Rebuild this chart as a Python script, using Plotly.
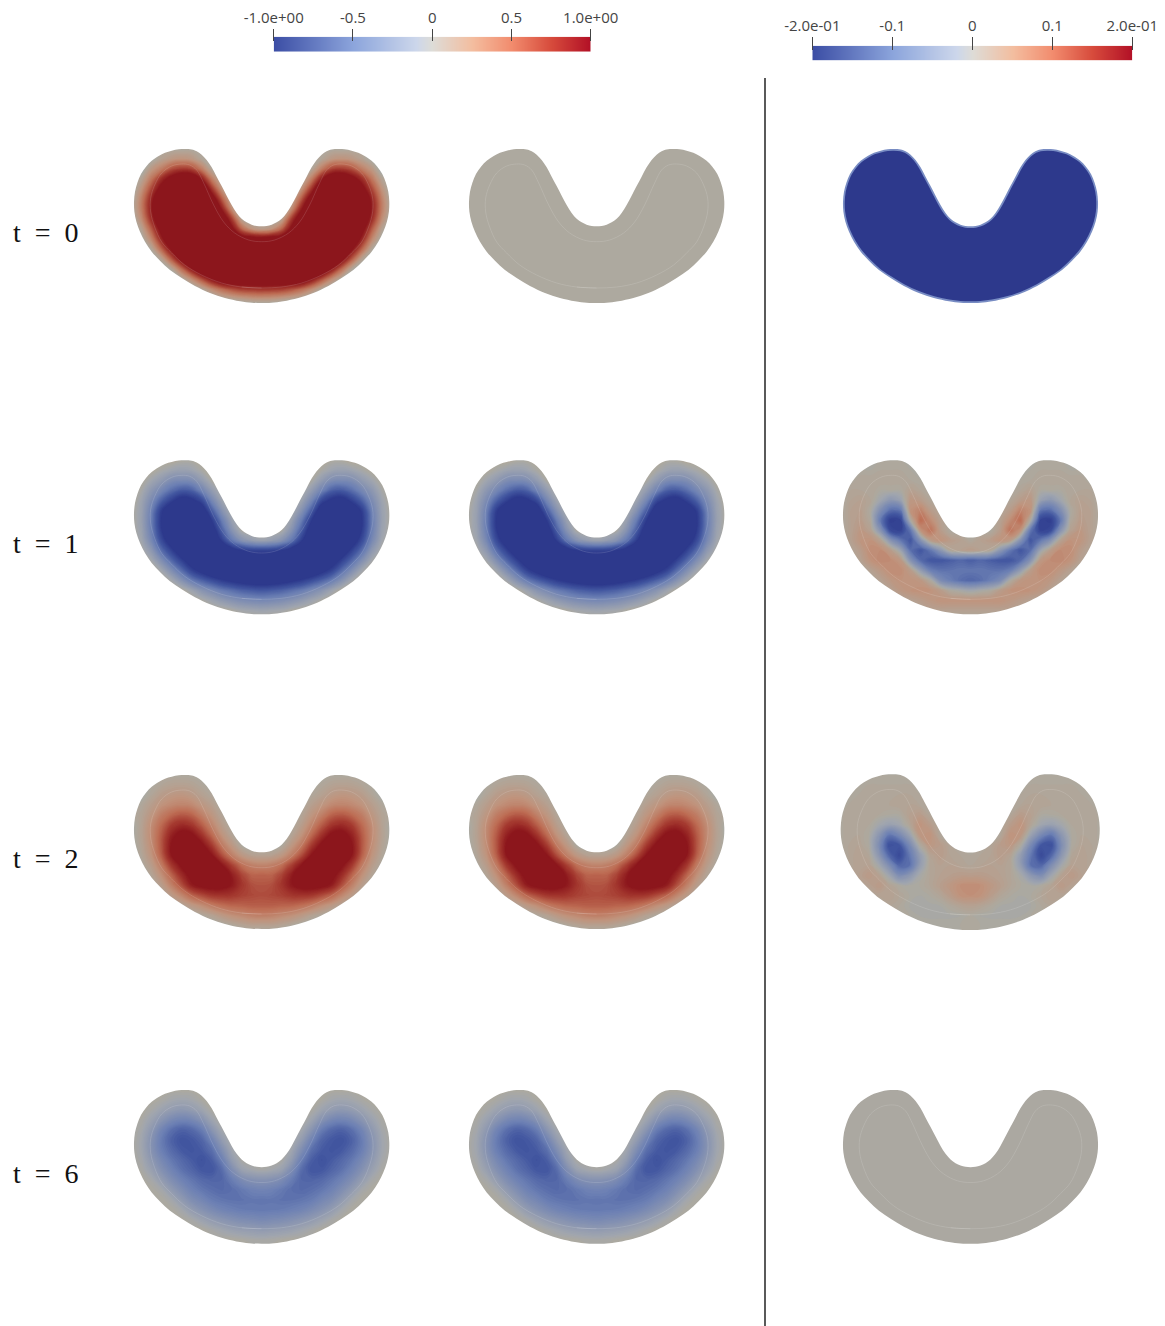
import plotly.graph_objects as go

WIDTH, HEIGHT = 1165, 1326

# half outline of the domain, (offset from the symmetry axis, depth below the top)
outline_dx = [0, 5, 10, 15, 20, 25, 30, 35, 40, 45, 50, 55, 60, 65, 70, 76.7, 83, 90, 96.7, 103, 110, 115.7,
              120.7, 124.3, 126.7, 127.7, 127.3, 125.3, 121.7, 116.7, 110, 101.7, 91.7, 80, 66.7, 51.7, 36.7,
              21.7, 10, 0]
outline_v = [77.3, 77, 75.7, 73.3, 69.7, 64, 56, 46.7, 37, 27.7, 18.3, 11, 5.7, 2.3, 0.5, 0, 0.3, 1.7, 3.7, 7,
             11.7, 17.7, 25, 33.7, 42.7, 52.7, 62.7, 72.7, 82.7, 92.7, 102.7, 111.7, 121, 129, 137, 144,
             149, 152.3, 153.7, 154]

# pale inner curve
inner_dx = [0, 13, 27, 38, 48, 58, 65, 72, 80, 90, 100, 107, 111, 111, 107, 100, 90, 77, 60, 40, 20, 0]
inner_v = [92.7, 91, 84, 73, 56, 34, 21, 16, 15, 17, 24, 36, 49, 63, 78, 93, 104, 116, 126, 134, 138, 139]

# field samples: rows are depth, columns are offset from the axis (one half, the shape is symmetric)
grid_dx = [0, 10, 20, 30, 40, 50, 60, 70, 80, 90, 100, 110, 120, 130]
grid_v = [0, 10, 20, 30, 40, 50, 60, 70, 80, 90, 100, 110, 120, 130, 140, 150, 160]

t0_left = [
    [0, 0, 0, 0, 0, 0, 0, 0, 0, 0, 0, 0, 0, 0],
    [0, 0, 0, 0, 0, 0, .05, .2, .25, .2, .1, -.05, 0, 0],
    [0, 0, 0, 0, 0, .05, .4, .7, .75, .65, .4, .2, -.1, 0],
    [0, 0, 0, 0, 0, .4, .95, 1.3, 1.35, 1.15, .85, .45, .08, 0],
    [0, 0, 0, -.1, .25, .8, 1.5, 1.7, 1.7, 1.6, 1.15, .7, .25, -.1],
    [0, 0, 0, .05, .6, 1.25, 1.7, 1.7, 1.7, 1.7, 1.4, .9, .38, -.05],
    [0, 0, -.05, .3, .95, 1.6, 1.7, 1.7, 1.7, 1.7, 1.5, .95, .4, -.03],
    [0, -.1, .1, .75, 1.35, 1.7, 1.7, 1.7, 1.7, 1.7, 1.35, .85, .3, -.1],
    [.15, .25, .55, 1.1, 1.6, 1.7, 1.7, 1.7, 1.7, 1.6, 1.15, .6, .1, -.1],
    [1.15, 1.2, 1.25, 1.6, 1.7, 1.7, 1.7, 1.7, 1.7, 1.4, .9, .35, -.05, -.1],
    [1.7, 1.7, 1.7, 1.7, 1.7, 1.7, 1.7, 1.7, 1.5, 1.05, .55, .05, -.1, -.1],
    [1.7, 1.7, 1.7, 1.7, 1.7, 1.7, 1.7, 1.6, 1.1, .6, .1, -.1, -.1, -.1],
    [1.7, 1.7, 1.7, 1.7, 1.7, 1.7, 1.4, .95, .5, .05, -.15, -.15, -.15, -.15],
    [1.35, 1.35, 1.35, 1.35, 1.3, 1.0, .65, .3, 0, -.2, -.2, -.2, -.2, -.2],
    [.8, .78, .75, .65, .5, .3, .05, -.15, -.2, -.2, -.2, -.2, -.2, -.2],
    [.22, .2, .15, .08, 0, -.15, -.2, -.2, -.2, -.2, -.2, -.2, -.2, -.2],
    [-.3, -.3, -.3, -.3, -.3, -.3, -.3, -.3, -.3, -.3, -.3, -.3, -.3, -.3],
]
t0_mid = [[0] * 14 for _ in grid_v]
t0_right = [[-.2] * 14 for _ in grid_v]

t1_left = [
    [.05, .05, .05, .05, .05, .05, .05, 0, 0, .05, .05, .05, .05, .05],
    [.05, .05, .05, .05, .05, .05, -.03, -.12, -.15, -.12, -.05, .03, .05, .05],
    [.05, .05, .05, .05, .05, -.02, -.2, -.35, -.38, -.35, -.22, -.1, .02, .05],
    [.05, .05, .05, .05, 0, -.2, -.45, -.68, -.72, -.6, -.42, -.25, -.05, .05],
    [.05, .05, .05, .03, -.12, -.42, -.85, -1.05, -1.12, -.92, -.68, -.38, -.12, .05],
    [.05, .05, .05, -.02, -.3, -.7, -1.2, -1.4, -1.45, -1.25, -.95, -.48, -.15, .02],
    [.05, .05, .03, -.15, -.52, -.98, -1.4, -1.6, -1.6, -1.4, -1.02, -.52, -.16, .02],
    [.05, .03, -.02, -.3, -.7, -1.2, -1.55, -1.6, -1.6, -1.4, -.98, -.5, -.14, .02],
    [-.12, -.18, -.3, -.55, -.95, -1.4, -1.6, -1.6, -1.5, -1.2, -.85, -.42, -.1, .03],
    [-.9, -.9, -.98, -1.15, -1.4, -1.6, -1.6, -1.5, -1.25, -.92, -.62, -.25, -.02, .05],
    [-1.3, -1.3, -1.35, -1.5, -1.6, -1.5, -1.35, -1.2, -.92, -.65, -.35, -.08, .05, .05],
    [-1.5, -1.5, -1.5, -1.5, -1.4, -1.3, -1.1, -.9, -.62, -.35, -.1, .05, .05, .05],
    [-1.2, -1.18, -1.12, -1.05, -.95, -.82, -.68, -.52, -.3, -.08, .05, .05, .05, .05],
    [-.75, -.72, -.68, -.6, -.52, -.4, -.28, -.12, .02, .05, .05, .05, .05, .05],
    [-.42, -.4, -.36, -.3, -.22, -.12, -.02, .05, .05, .05, .05, .05, .05, .05],
    [-.12, -.1, -.08, -.02, .03, .05, .05, .05, .05, .05, .05, .05, .05, .05],
    [.05, .05, .05, .05, .05, .05, .05, .05, .05, .05, .05, .05, .05, .05],
]
t1_right = [
    [0, 0, 0, 0, 0, 0, 0, 0, 0, 0, 0, 0, 0, 0],
    [0, 0, 0, 0, 0, 0, 0, .005, .005, .005, 0, 0, 0, 0],
    [0, 0, 0, 0, 0, 0, .005, .01, .01, .01, .01, .01, 0, 0],
    [0, 0, 0, 0, 0, .01, .02, 0, 0, 0, .01, .01, .01, 0],
    [0, 0, 0, 0, .01, .03, .04, -.03, -.05, -.02, .01, .02, .015, 0],
    [0, 0, 0, .01, .03, .07, .05, -.11, -.12, -.07, 0, .025, .02, 0],
    [0, 0, 0, .02, .06, .10, 0, -.18, -.19, -.11, .005, .03, .02, 0],
    [0, 0, 0, .03, .09, .05, -.11, -.18, -.17, -.06, .02, .04, .02, 0],
    [.005, .02, .03, .05, .03, -.06, -.15, -.11, -.06, .02, .05, .045, .02, 0],
    [.03, .02, .01, -.05, -.11, -.15, -.12, -.025, .03, .06, .06, .03, .01, 0],
    [-.14, -.13, -.14, -.15, -.15, -.125, -.06, .04, .06, .065, .05, .02, 0, 0],
    [-.11, -.11, -.115, -.115, -.10, -.04, .03, .06, .06, .04, .02, 0, 0, 0],
    [-.13, -.12, -.10, -.075, 0, .04, .05, .05, .04, .02, 0, 0, 0, 0],
    [-.02, -.01, 0, .03, .05, .055, .05, .04, .02, 0, 0, 0, 0, 0],
    [.05, .05, .05, .05, .04, .03, .02, .01, 0, 0, 0, 0, 0, 0],
    [.02, .02, .02, .02, .02, .01, 0, 0, 0, 0, 0, 0, 0, 0],
    [0, 0, 0, 0, 0, 0, 0, 0, 0, 0, 0, 0, 0, 0],
]

t2_left = [
    [0, 0, 0, 0, 0, 0, 0, 0, 0, 0, 0, 0, 0, 0],
    [0, 0, 0, 0, 0, 0, .03, .08, .1, .09, .05, 0, 0, 0],
    [0, 0, 0, 0, 0, .03, .1, .18, .22, .2, .15, .05, -.05, 0],
    [0, 0, 0, 0, 0, .12, .22, .32, .35, .32, .25, .14, .03, 0],
    [0, 0, 0, -.05, .06, .22, .38, .55, .6, .52, .4, .22, .07, 0],
    [0, 0, 0, 0, .14, .35, .58, .78, .85, .75, .52, .3, .09, -.05],
    [0, 0, -.05, .07, .25, .52, .8, 1.05, 1.1, .92, .6, .32, .1, -.05],
    [0, -.05, 0, .2, .42, .75, 1.05, 1.25, 1.25, 1.02, .62, .3, .08, -.05],
    [.08, .1, .2, .38, .65, 1.0, 1.25, 1.3, 1.2, 1.0, .58, .25, .05, -.05],
    [.35, .38, .48, .72, 1.0, 1.2, 1.3, 1.25, 1.05, .78, .42, .16, 0, -.1],
    [.55, .55, .7, .95, 1.2, 1.3, 1.25, 1.1, .85, .55, .28, .07, -.05, -.1],
    [.62, .65, .78, .98, 1.1, 1.12, 1.08, .95, .65, .38, .15, 0, -.1, -.1],
    [.66, .68, .72, .78, .8, .78, .68, .55, .35, .18, .02, -.1, -.1, -.1],
    [.58, .58, .56, .55, .5, .42, .3, .2, .08, -.02, -.1, -.1, -.1, -.1],
    [.4, .38, .33, .28, .2, .1, .03, -.05, -.1, -.1, -.1, -.1, -.1, -.1],
    [.12, .12, .08, .03, -.03, -.08, -.1, -.1, -.1, -.1, -.1, -.1, -.1, -.1],
    [-.1, -.1, -.1, -.1, -.1, -.1, -.1, -.1, -.1, -.1, -.1, -.1, -.1, -.1],
]
t2_right = [
    [0, 0, 0, 0, 0, 0, 0, 0, 0, 0, 0, 0, 0, 0],
    [0, 0, 0, 0, 0, 0, .005, .005, .005, .005, .005, .005, 0, 0],
    [0, 0, 0, 0, 0, .005, .01, .01, .01, .01, .01, .005, 0, 0],
    [0, 0, 0, 0, .005, .01, .015, .015, .01, .01, .01, .01, .005, 0],
    [0, 0, 0, 0, .01, .03, .02, 0, 0, .005, .01, .01, .01, 0],
    [0, 0, 0, .005, .03, .05, .01, -.02, -.03, -.015, .005, .01, .01, 0],
    [0, 0, 0, .01, .05, .04, -.03, -.08, -.11, -.05, 0, .01, .01, 0],
    [0, .005, .01, .03, .04, 0, -.08, -.15, -.16, -.07, 0, .015, .01, 0],
    [.005, .01, .015, .03, .015, -.04, -.11, -.17, -.13, -.05, .01, .02, .01, 0],
    [.01, .015, .02, .02, .01, -.04, -.12, -.13, -.07, -.015, .02, .02, .01, 0],
    [.03, .03, .025, .02, .01, -.01, -.05, -.07, -.02, .02, .035, .02, .01, 0],
    [.06, .055, .04, .025, .01, 0, -.005, 0, .015, .035, .02, .005, 0, 0],
    [.055, .05, .03, .01, 0, -.005, 0, .01, .02, .015, .005, 0, 0, 0],
    [.02, .015, .005, -.005, -.007, -.007, -.005, .005, .01, .005, 0, 0, 0, 0],
    [0, -.005, -.007, -.007, -.007, -.005, 0, .005, .005, 0, 0, 0, 0, 0],
    [.005, 0, 0, 0, 0, 0, 0, 0, 0, 0, 0, 0, 0, 0],
    [0, 0, 0, 0, 0, 0, 0, 0, 0, 0, 0, 0, 0, 0],
]

t6_left = [
    [0, 0, 0, 0, 0, 0, 0, 0, 0, 0, 0, 0, 0, 0],
    [0, 0, 0, 0, 0, 0, -.02, -.08, -.1, -.08, -.03, 0, 0, 0],
    [0, 0, 0, 0, 0, -.02, -.12, -.2, -.24, -.2, -.13, -.05, 0, 0],
    [0, 0, 0, 0, 0, -.12, -.3, -.42, -.45, -.4, -.28, -.14, -.03, 0],
    [0, 0, 0, 0, -.08, -.28, -.52, -.64, -.68, -.6, -.45, -.24, -.07, 0],
    [0, 0, 0, -.02, -.2, -.46, -.66, -.74, -.77, -.68, -.52, -.3, -.1, 0],
    [0, 0, 0, -.1, -.35, -.6, -.72, -.76, -.73, -.63, -.5, -.3, -.1, 0],
    [0, 0, -.03, -.2, -.5, -.7, -.78, -.72, -.64, -.55, -.41, -.24, -.07, 0],
    [-.05, -.08, -.15, -.36, -.62, -.75, -.74, -.66, -.58, -.46, -.32, -.16, -.03, 0],
    [-.3, -.32, -.38, -.52, -.65, -.66, -.63, -.56, -.47, -.35, -.2, -.06, 0, 0],
    [-.46, -.48, -.54, -.6, -.63, -.6, -.55, -.47, -.35, -.22, -.07, 0, 0, 0],
    [-.56, -.56, -.58, -.58, -.56, -.52, -.43, -.35, -.22, -.08, 0, 0, 0, 0],
    [-.54, -.53, -.52, -.49, -.45, -.38, -.3, -.2, -.08, 0, 0, 0, 0, 0],
    [-.4, -.38, -.36, -.32, -.27, -.21, -.13, -.05, 0, 0, 0, 0, 0, 0],
    [-.22, -.2, -.18, -.15, -.1, -.05, 0, 0, 0, 0, 0, 0, 0, 0],
    [-.05, -.04, -.02, 0, 0, 0, 0, 0, 0, 0, 0, 0, 0, 0],
    [0, 0, 0, 0, 0, 0, 0, 0, 0, 0, 0, 0, 0, 0],
]
t6_right = [[-.003] * 14 for _ in grid_v]

row_labels = ['t\u2002=\u20020', 't\u2002=\u20021', 't\u2002=\u20022', 't\u2002=\u20026']
row_label_y = [232, 543, 858, 1173]

bar_left_vals = [-1, -.5, 0, .5, 1]
bar_left_text = ['-1.0e+00', '-0.5', '0', '0.5', '1.0e+00']
bar_right_vals = [-.2, -.1, 0, .1, .2]
bar_right_text = ['-2.0e-01', '-0.1', '0', '0.1', '2.0e-01']

# colours of the bars, and the same map as it looks on the shaded surfaces
bar_scale = [[0, 'rgb(60,78,165)'], [.25, 'rgb(140,165,220)'], [.45, 'rgb(205,215,235)'], [.5, 'rgb(222,220,215)'],
             [.625, 'rgb(243,190,160)'], [.75, 'rgb(242,140,110)'], [.875, 'rgb(215,75,60)'], [1, 'rgb(178,16,38)']]
field_scale = [[0, 'rgb(45,57,140)'], [.125, 'rgb(66,86,160)'], [.25, 'rgb(108,128,180)'], [.45, 'rgb(160,165,175)'],
               [.5, 'rgb(173,169,159)'], [.625, 'rgb(192,148,125)'], [.75, 'rgb(190,110,85)'],
               [.875, 'rgb(165,58,48)'], [1, 'rgb(140,22,28)']]

# panel boxes in pixels: left, right, top, bottom
cols = [(134, 389.3), (469, 724.3), (843, 1098)]
rows = [(149, 303), (460.3, 614.3), (775, 929), (1090, 1243.7)]
panels = [
    (0, 0, t0_left, 1), (0, 1, t0_mid, 1), (0, 2, t0_right, .2),
    (1, 0, t1_left, 1), (1, 1, t1_left, 1), (1, 2, t1_right, .2),
    (2, 0, t2_left, 1), (2, 1, t2_left, 1), (2, 2, t2_right, .2),
    (3, 0, t6_left, 1), (3, 1, t6_left, 1), (3, 2, t6_right, .2),
]


def px_x(x):
    return x / WIDTH


def px_y(y):
    return 1 - y / HEIGHT


def smooth_closed_path(pts):
    # Catmull-Rom through the outline points, written as svg cubics
    n = len(pts)
    d = f'M{pts[0][0]:.5f},{pts[0][1]:.5f}'
    for k in range(n):
        p0, p1, p2, p3 = pts[k - 1], pts[k], pts[(k + 1) % n], pts[(k + 2) % n]
        c1 = (p1[0] + (p2[0] - p0[0]) / 6, p1[1] + (p2[1] - p0[1]) / 6)
        c2 = (p2[0] - (p3[0] - p1[0]) / 6, p2[1] - (p3[1] - p1[1]) / 6)
        d += f' C{c1[0]:.5f},{c1[1]:.5f} {c2[0]:.5f},{c2[1]:.5f} {p2[0]:.5f},{p2[1]:.5f}'
    return d + ' Z'


fig = go.Figure()
layout = {}
shapes = []
annotations = []

# whole closed outline (left half read back to front, then right half; ends not repeated)
out_x = [-d for d in outline_dx[:0:-1]] + outline_dx[:-1]
out_y = outline_v[:0:-1] + outline_v[:-1]
in_x = [-d for d in inner_dx[:0:-1]] + inner_dx + [-inner_dx[-2]]
in_y = inner_v[:0:-1] + inner_v + [inner_v[-2]]
full_x = [-d for d in grid_dx[:0:-1]] + grid_dx
PAD = 3

for i, (r, c, field, zlim) in enumerate(panels, start=2):
    left, right = cols[c]
    top, bottom = rows[r]
    # the t = 2 error panel is a touch larger in the picture
    if r == 2 and c == 2:
        left, right, top, bottom = 840.7, 1099.7, 774.3, 930
    sx = (right - left) / 255.4
    sy = (bottom - top) / 154
    mid = (left + right) / 2
    layout[f'xaxis{i}'] = dict(domain=[px_x(left - PAD * sx), px_x(right + PAD * sx)], automargin=False,
                               range=[-127.7 - PAD, 127.7 + PAD], visible=False, fixedrange=True)
    layout[f'yaxis{i}'] = dict(domain=[px_y(bottom + PAD * sy), px_y(top - PAD * sy)], automargin=False,
                               range=[154 + PAD, -PAD], visible=False, fixedrange=True)
    z = [row[:0:-1] + row for row in field]
    flat = min(min(row) for row in field) == max(max(row) for row in field)
    if flat:
        fig.add_trace(go.Heatmap(x=full_x, y=grid_v, z=z, zmin=-zlim, zmax=zlim, colorscale=field_scale,
                                 showscale=False, hoverinfo='skip', xaxis=f'x{i}', yaxis=f'y{i}'))
    else:
        fig.add_trace(go.Contour(x=full_x, y=grid_v, z=z, zmin=-zlim, zmax=zlim, colorscale=field_scale,
                                 autocontour=False, showscale=False, hoverinfo='skip',
                                 contours=dict(start=-zlim, end=zlim, size=zlim / 40, coloring='fill',
                                               showlines=False),
                                 line=dict(smoothing=1.3, width=0), xaxis=f'x{i}', yaxis=f'y{i}'))
    # the initial error panel has no pale curve, only a lighter rim
    if r == 0 and c == 2:
        fig.add_trace(go.Scatter(x=out_x + [out_x[0]], y=out_y + [out_y[0]], mode='lines',
                                 line=dict(color='rgb(120,140,195)', width=3.5, shape='spline'), hoverinfo='skip',
                                 showlegend=False, xaxis=f'x{i}', yaxis=f'y{i}'))
    else:
        fig.add_trace(go.Scatter(x=in_x, y=in_y, mode='lines',
                                 line=dict(color='rgba(255,255,255,0.13)', width=1, shape='spline'),
                                 hoverinfo='skip', showlegend=False, xaxis=f'x{i}', yaxis=f'y{i}'))
    # white sheet with a hole in the form of the domain, in paper units so that it is not cut at the axes
    hole = smooth_closed_path([(px_x(mid + a * sx), px_y(top + b * sy)) for a, b in zip(out_x, out_y)])
    x0, x1 = px_x(left - 8), px_x(right + 8)
    y0, y1 = px_y(top - 8), px_y(bottom + 8)
    shapes.append(dict(type='path', xref='paper', yref='paper', fillcolor='white', line_width=0, layer='above',
                       fillrule='evenodd',
                       path=f'M{x0:.5f},{y0:.5f} L{x1:.5f},{y0:.5f} L{x1:.5f},{y1:.5f} L{x0:.5f},{y1:.5f} Z {hole}'))

# colour bars
for i, vals, text, (bl, br, bt, bb, tick_base, tick_len) in [
    (20, bar_left_vals, bar_left_text, (273.7, 590.7, 36.7, 51.7, 40.7, 11.4)),
    (21, bar_right_vals, bar_right_text, (812.3, 1132.3, 45.7, 60.3, 49.7, 12.5)),
]:
    fig.add_trace(go.Heatmap(x=[vals[0], vals[-1]], y=[0, 1], z=[[vals[0], vals[-1]], [vals[0], vals[-1]]],
                             zsmooth='best', colorscale=bar_scale, showscale=False, hoverinfo='skip',
                             xaxis=f'x{i}', yaxis=f'y{i}'))
    layout[f'xaxis{i}'] = dict(domain=[px_x(bl), px_x(br)], range=[vals[0], vals[-1]], anchor='free',
                               position=px_y(tick_base), side='top', tickmode='array', tickvals=vals,
                               ticktext=text, ticks='outside', ticklen=tick_len, tickwidth=1.2,
                               tickcolor='#444', showgrid=False, zeroline=False, showline=False, automargin=False,
                               tickfont=dict(family='Open Sans', size=15, color='#444'), fixedrange=True)
    layout[f'yaxis{i}'] = dict(domain=[px_y(bb), px_y(bt)], range=[0, 1], visible=False, fixedrange=True,
                               automargin=False)

# row labels
for text, y in zip(row_labels, row_label_y):
    annotations.append(dict(text=text, x=px_x(11), y=px_y(y), xref='paper', yref='paper', xanchor='left',
                            yanchor='middle', showarrow=False, font=dict(family='Liberation Serif', size=28,
                                                                         color='#111')))

# divider
shapes.append(dict(type='line', xref='paper', yref='paper', x0=px_x(765), x1=px_x(765), y0=px_y(78), y1=0,
                   line=dict(color='black', width=1.3)))

fig.update_layout(width=WIDTH, height=HEIGHT, margin=dict(l=0, r=0, t=0, b=0), paper_bgcolor='white',
                  plot_bgcolor='white', showlegend=False, shapes=shapes, annotations=annotations, **layout)

fig.write_html("out.html", config={'displayModeBar': False},
               post_script="document.body.style.margin='0';document.body.style.overflow='hidden';")
